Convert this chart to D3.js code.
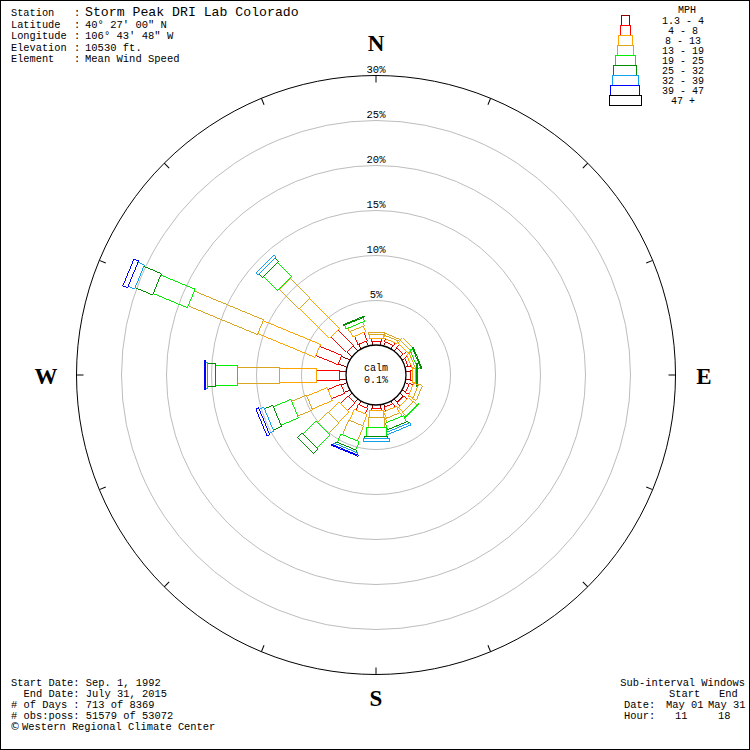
<!DOCTYPE html>
<html><head><meta charset="utf-8">
<script src="https://cdn.jsdelivr.net/npm/d3@7"></script>
<style>body{margin:0;background:#fff}svg{display:block}</style>
</head><body>
<svg id="c" width="750" height="750"></svg>
<script>
// ---- data ----
const directions = ["N","NNE","NE","ENE","E","ESE","SE","SSE","S","SSW","SW","WSW","W","WNW","NW","NNW"];
const speedClasses = ["1.3 - 4","4 - 8","8 - 13","13 - 19","19 - 25","25 - 32","32 - 39","39 - 47","47 +"];
// frequency (%) of each speed class by direction (N, NNE, ... NNW)
const s1 = [0.50,0.50,0.50,0.39,0.50,0.50,0.50,0.39,0.39,0.50,0.61,0.72,0.83,1.06,0.83,0.61];
const s2 = [0.33,0.33,0.44,0.33,0.33,0.44,0.56,0.44,0.33,0.67,1.11,1.56,2.45,2.66,2.45,1.00];
const s3 = [0.34,0.34,0.45,0.34,0.23,0.56,0.66,0.78,0.67,1.33,1.67,2.44,4.11,6.89,4.66,0.67];
const s4 = [0.33,0.22,0.33,0.22,0.11,0.44,0.56,0.45,1.11,1.78,1.67,1.78,4.67,8.33,3.12,0.44];
const s5 = [0.00,0.00,0.00,0.33,0.11,0.00,0.11,0.77,1.00,1.00,2.00,2.11,2.55,4.12,2.22,0.45];
const s6 = [0.00,0.00,0.00,0.11,0.03,0.00,0.00,0.23,0.33,0.22,0.77,1.00,0.78,2.11,0.60,0.11];
const s7 = [0.00,0.00,0.00,0.00,0.00,0.00,0.00,0.27,0.23,0.22,0.00,0.56,0.33,0.77,0.30,0.00];
const s8 = [0.00,0.00,0.00,0.00,0.00,0.00,0.00,0.00,0.00,0.11,0.00,0.33,0.11,0.56,0.00,0.00];
const s9 = [0,0,0,0,0,0,0,0,0,0,0,0,0,0,0,0];
const series = [s1,s2,s3,s4,s5,s6,s7,s8,s9];
const ringTicks = [5,10,15,20,25,30];
const calmPct = "0.1%";
const headerLabels = ["Station","Latitude","Longitude","Elevation","Element"];
const headerValues = ["Storm Peak DRI Lab Colorado","40° 27' 00\" N","106° 43' 48\" W","10530 ft.","Mean Wind Speed"];
const footerLeft = ["Start Date: Sep. 1, 1992","  End Date: July 31, 2015","# of Days : 713 of 8369","# obs:poss: 51579 of 53072"];
const credit = "Western Regional Climate Center";

// ---- styles ----
const colors = ["#8b0000","#ff0000","#ffa500","#daa520","#00ee00","#008c00","#10a0f0","#0000ff","#000000"];
const widths = [8,10,14,16,20,23,26,29,32];
const mono = "'Liberation Mono', monospace";

const svg = d3.select("#c");
const cx = 376, cy = 375;
const r = d3.scaleLinear().domain([0,30]).range([29.5,299.5]);
const ang = d3.scalePoint().domain(directions).range([0,337.5]);

svg.append("rect").attr("x",0.5).attr("y",0.5).attr("width",749).attr("height",749)
  .attr("fill","#fff").attr("stroke","#000");

const g = svg.append("g").attr("transform",`translate(${cx},${cy})`);

// rings
g.selectAll("circle.ring").data(ringTicks).join("circle")
  .attr("r",d=>r(d)).attr("fill","none")
  .attr("stroke",d=>d===30?"#000":"#bdbdbd").attr("stroke-width",1);
// ring labels
g.selectAll("text.rl").data(ringTicks).join("text")
  .attr("x",0).attr("y",d=>-r(d)-3).attr("text-anchor","middle")
  .style("font-family",mono).style("font-size","10.5px").text(d=>d+"%");
// outer ticks
g.selectAll("line.tk").data(directions).join("line")
  .attr("transform",d=>`rotate(${ang(d)})`)
  .attr("x1",0).attr("x2",0).attr("y1",-r(30)).attr("y2",-r(30)+7)
  .attr("stroke","#000");

// petals
const petals = [];
directions.forEach((d,i)=>{
  let cum = 0;
  series.forEach((s,k)=>{
    const v = s[i];
    if (v>0){
      petals.push({dir:d,k,inner:cum,outer:cum+v});
      cum += v;
    }
  });
});
g.selectAll("rect.p").data(petals).join("rect")
  .attr("transform",d=>`rotate(${ang(d.dir)})`)
  .attr("x",d=>-widths[d.k]/2).attr("width",d=>widths[d.k])
  .attr("y",d=>-r(d.outer)).attr("height",d=>Math.max(0.5,r(d.outer)-r(d.inner)))
  .attr("fill","none").attr("stroke",d=>colors[d.k]).attr("stroke-width",1)
  .attr("shape-rendering","crispEdges");

// calm circle
g.append("circle").attr("r",30).attr("fill","#fff").attr("stroke","#000").attr("stroke-width",1.3);
g.append("text").attr("x",0).attr("y",-4).attr("text-anchor","middle")
  .style("font-family",mono).style("font-size","10px").text("calm");
g.append("text").attr("x",0).attr("y",8).attr("text-anchor","middle")
  .style("font-family",mono).style("font-size","10px").text(calmPct);

// compass letters
const compass = [["N",376,51],["S",376,706],["W",46,384],["E",704,384]];
svg.selectAll("text.cp").data(compass).join("text")
  .attr("x",d=>d[1]).attr("y",d=>d[2]).attr("text-anchor","middle")
  .style("font-family","'Liberation Serif', serif").style("font-weight","bold").style("font-size","23px")
  .text(d=>d[0]);

// header
headerLabels.forEach((t,i)=>{
  const y = 16 + i*11.5;
  svg.append("text").attr("x",11).attr("y",y).style("font-family",mono).style("font-size","10.3px").text(t);
  svg.append("text").attr("x",74).attr("y",y).style("font-family",mono).style("font-size","10.3px").text(":");
  svg.append("text").attr("x",85).attr("y",y).style("font-family",mono)
    .style("font-size",i===0?"13.2px":"10.5px").text(headerValues[i]);
});

// footer left
footerLeft.forEach((t,i)=>{
  svg.append("text").attr("x",11).attr("y",686+i*11).attr("xml:space","preserve")
    .style("white-space","pre").style("font-family",mono).style("font-size","10.4px").text(t);
});
svg.append("text").attr("x",10).attr("y",730).style("font-family","'DejaVu Sans', sans-serif").style("font-size","10px").text("©");
svg.append("text").attr("x",22).attr("y",730).style("font-family",mono).style("font-size","10.4px").text(credit);

// footer right
const fr = svg.append("g").style("font-family",mono).style("font-size","10.4px");
fr.append("text").attr("x",745).attr("y",686).attr("text-anchor","end").text("Sub-interval Windows");
fr.append("text").attr("x",669).attr("y",697).text("Start");
fr.append("text").attr("x",719).attr("y",697).text("End");
fr.append("text").attr("x",624).attr("y",708).text("Date:");
fr.append("text").attr("x",666).attr("y",708).text("May 01");
fr.append("text").attr("x",708).attr("y",708).text("May 31");
fr.append("text").attr("x",624).attr("y",719).text("Hour:");
fr.append("text").attr("x",675).attr("y",719).text("11");
fr.append("text").attr("x",718).attr("y",719).text("18");

// legend
const lg = svg.append("g");
lg.selectAll("rect").data(speedClasses).join("rect")
  .attr("x",(d,i)=>625-widths[i]/2).attr("width",(d,i)=>widths[i])
  .attr("y",(d,i)=>15+i*10).attr("height",10)
  .attr("fill","none").attr("stroke",(d,i)=>colors[i]).attr("stroke-width",1)
  .attr("shape-rendering","crispEdges");
lg.append("text").attr("x",687).attr("y",13).attr("text-anchor","middle")
  .style("font-family",mono).style("font-size","10px").text("MPH");
lg.selectAll("text.lab").data(speedClasses).join("text").attr("class","lab")
  .attr("x",683).attr("y",(d,i)=>24+i*10).attr("text-anchor","middle").attr("xml:space","preserve")
  .style("white-space","pre").style("font-family",mono).style("font-size","10px")
  .text(d=>d);
</script>
</body></html>
